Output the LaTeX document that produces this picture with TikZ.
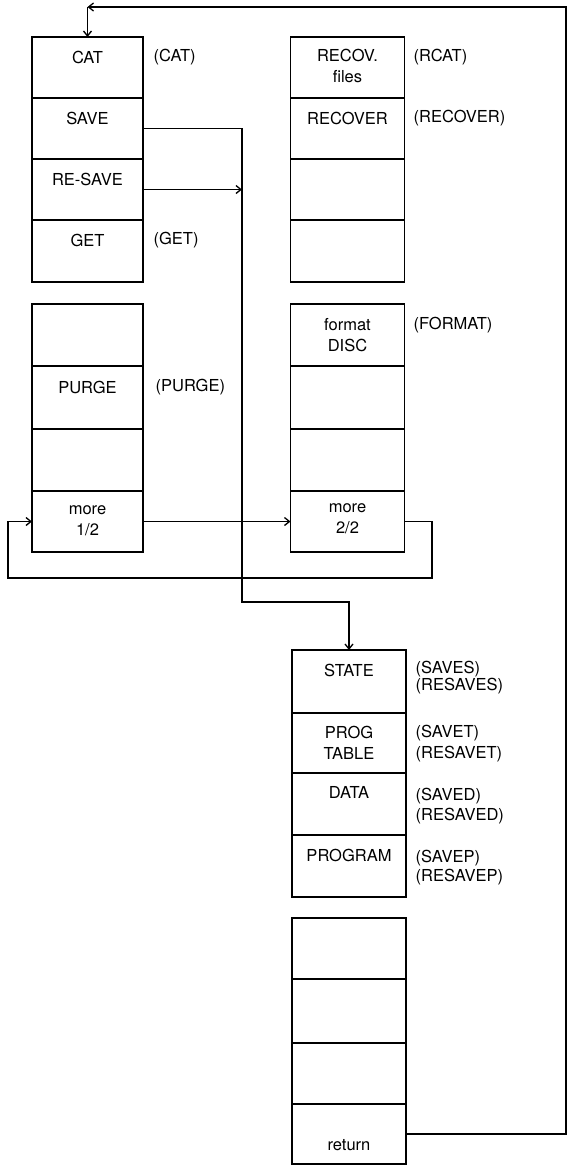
\documentclass[tikz,border=0pt]{standalone}
\usepackage{fontspec}
\setmainfont{TeX Gyre Heros}
\usetikzlibrary{arrows.meta,calc}
\begin{document}
\begin{tikzpicture}[x=1pt,y=-1pt,
  line width=1.3pt,
  >={Straight Barb[length=5pt,width=8pt]},
  cell/.style 2 args={draw, minimum width=#1, minimum height=#2, inner sep=0pt, outer sep=0pt},
  txt/.style={align=center, inner sep=0pt, font=\fontsize{16.5}{21}\selectfont},
  lab/.style={anchor=west, align=left, inner sep=0pt, font=\fontsize{16.5}{17}\selectfont}]
\useasboundingbox (0,0) rectangle (567,1165);

% ---- box A (left top)
\node[cell={111pt}{61pt}] (A1) at (87.5,67.5) {};
\node[cell={111pt}{61pt}] (A2) at (87.5,128.5) {};
\node[cell={111pt}{61pt}] (A3) at (87.5,189.5) {};
\node[cell={111pt}{62pt}] (A4) at (87.5,251) {};
\node[txt] (tA1) at (87.5,57) {CAT};
\node[txt] (tA2) at (87.5,118) {SAVE};
\node[txt] (tA3) at (87.5,179) {RE-SAVE};
\node[txt] (tA4) at (87.5,240) {GET};
\node[lab] (lA1) at (153,57) {(CAT)};
\node[lab] (lA4) at (153,240) {(GET)};

% ---- box B (right top)
\node[cell={114pt}{61pt}] (B1) at (347.5,67.5) {};
\node[cell={114pt}{61pt}] (B2) at (347.5,128.5) {};
\node[cell={114pt}{61pt}] (B3) at (347.5,189.5) {};
\node[cell={114pt}{62pt}] (B4) at (347.5,251) {};
\node[txt] (tB1) at (347.5,66) {RECOV.\\files};
\node[txt] (tB2) at (347.5,118) {RECOVER};
\node[lab] (lB1) at (413,57) {(RCAT)};
\node[lab] (lB2) at (413,118) {(RECOVER)};

% ---- box C (left middle)
\node[cell={111pt}{62pt}] (C1) at (87.5,335) {};
\node[cell={111pt}{63pt}] (C2) at (87.5,397.5) {};
\node[cell={111pt}{62pt}] (C3) at (87.5,460) {};
\node[cell={111pt}{61pt}] (C4) at (87.5,521.5) {};
\node[txt] (tC2) at (87.5,387) {PURGE};
\node[txt] (tC4) at (87.5,521) {more\\1/2};
\node[lab] (lC2) at (155,387) {(PURGE)};

% ---- box D (right middle)
\node[cell={114pt}{62pt}] (D1) at (347.5,335) {};
\node[cell={114pt}{63pt}] (D2) at (347.5,397.5) {};
\node[cell={114pt}{62pt}] (D3) at (347.5,460) {};
\node[cell={114pt}{61pt}] (D4) at (347.5,521.5) {};
\node[txt] (tD1) at (347.5,335) {format\\DISC};
\node[txt] (tD4) at (347.5,519) {more\\2/2};
\node[lab] (lD1) at (413,325) {(FORMAT)};

% ---- box E (save types)
\node[cell={114pt}{63pt}] (E1) at (349,681.5) {};
\node[cell={114pt}{60pt}] (E2) at (349,743) {};
\node[cell={114pt}{62pt}] (E3) at (349,804) {};
\node[cell={114pt}{62pt}] (E4) at (349,866) {};
\node[txt] (tE1) at (349,670) {STATE};
\node[txt] (tE2) at (349,743) {PROG\\TABLE};
\node[txt] (tE3) at (349,792) {DATA};
\node[txt] (tE4) at (349,855) {PROGRAM};
\node[lab] (lE1) at (415,678) {(SAVES)\\(RESAVES)};
\node[lab] (lE2) at (415,743.5) {(SAVET)\\[4pt](RESAVET)};
\node[lab] (lE3) at (415,806) {(SAVED)\\[3pt](RESAVED)};
\node[lab] (lE4) at (415,867.5) {(SAVEP)\\[2pt](RESAVEP)};

% ---- box F (bottom)
\node[cell={114pt}{61pt}] (F1) at (349,948.5) {};
\node[cell={114pt}{64pt}] (F2) at (349,1011) {};
\node[cell={114pt}{61pt}] (F3) at (349,1073.5) {};
\node[cell={114pt}{60pt}] (F4) at (349,1134) {};
\node[txt] (tF4) at (349,1145) {return};

% ---- connectors
\coordinate (tr) at (566,7);
\coordinate (tl) at (87.5,7);
\coordinate (sv) at (242,602);
\coordinate (lp) at (432,578);
\coordinate (lq) at (8,578);

\draw[->] (F4.east) -| (tr) -- (tl);
\draw[->] (tl) -- (A1.north);
\draw[->] (A2.east) -| (sv) -| (E1.north);
\draw[->] (A3.east) -- (A3.east -| sv);
\draw[->] (C4.east) -- (D4.west);
\draw[->] (D4.east) -| (lp) -- (lq) |- (C4.west);
\end{tikzpicture}
\end{document}
